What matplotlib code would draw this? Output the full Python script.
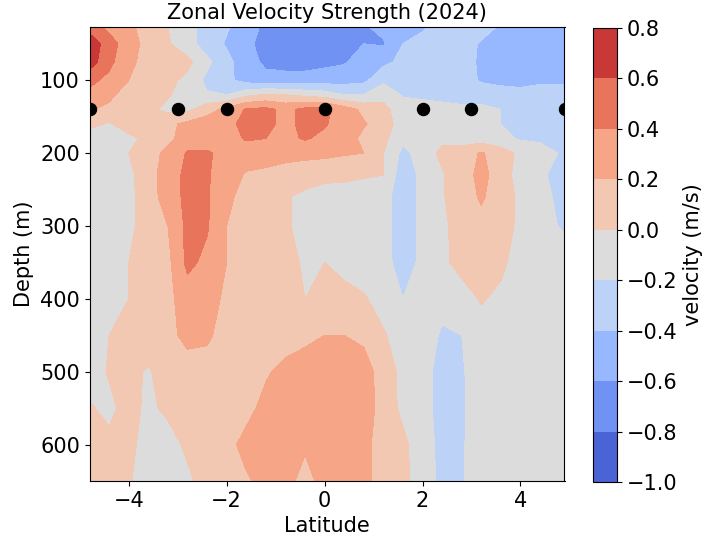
import numpy as np
import matplotlib
matplotlib.use("Agg")
import matplotlib.pyplot as plt

plt.rcParams['font.family'] = ['DejaVu Sans']
plt.rcParams['font.size'] = 15

latitude = [-4.8, -4.4, -4.0, -3.6, -3.2, -2.8, -2.4, -2.0, -1.6, -1.2, -0.8, -0.4,
            0.0, 0.4, 0.8, 1.2, 1.6, 2.0, 2.4, 2.8, 3.2, 3.6, 4.0, 4.4, 4.9]
depth = [27, 50, 75, 100, 120, 140, 160, 180, 200, 230, 260, 300, 350, 400, 450, 500, 550, 600, 650]

velocity = [
    [0.5, 0.35, 0.25, 0.1, 0.0, -0.12, -0.3, -0.38, -0.5, -0.65, -0.72, -0.75, -0.72, -0.68, -0.62, -0.55, -0.45, -0.42, -0.35, -0.3, -0.33, -0.42, -0.45, -0.42, -0.42],
    [0.75, 0.48, 0.3, 0.12, 0.02, -0.12, -0.3, -0.42, -0.55, -0.68, -0.72, -0.72, -0.68, -0.62, -0.6, -0.62, -0.4, -0.35, -0.33, -0.32, -0.42, -0.45, -0.45, -0.45, -0.42],
    [0.7, 0.45, 0.25, 0.12, 0.1, 0.05, -0.15, -0.35, -0.5, -0.65, -0.68, -0.68, -0.65, -0.62, -0.5, -0.45, -0.35, -0.3, -0.3, -0.35, -0.42, -0.45, -0.45, -0.45, -0.42],
    [0.45, 0.35, 0.2, 0.1, 0.05, -0.05, -0.25, -0.35, -0.48, -0.52, -0.52, -0.52, -0.5, -0.48, -0.45, -0.25, -0.32, -0.32, -0.32, -0.32, -0.42, -0.45, -0.45, -0.42, -0.42],
    [0.35, 0.25, 0.1, 0.08, 0.02, -0.1, -0.18, -0.2, -0.05, 0.02, 0.0, -0.05, -0.1, -0.2, -0.2, -0.05, -0.22, -0.25, -0.28, -0.3, -0.3, -0.32, -0.35, -0.35, -0.35],
    [0.22, 0.15, 0.12, 0.05, -0.05, -0.05, 0.12, 0.25, 0.42, 0.45, 0.35, 0.45, 0.45, 0.3, 0.15, 0.05, -0.1, -0.1, -0.12, -0.15, -0.15, -0.2, -0.25, -0.25, -0.25],
    [0.05, -0.02, 0.1, 0.12, 0.15, 0.25, 0.3, 0.35, 0.45, 0.45, 0.35, 0.45, 0.42, 0.3, 0.22, 0.1, -0.1, -0.12, -0.05, -0.1, -0.15, -0.2, -0.25, -0.25, -0.25],
    [-0.1, -0.1, -0.05, 0.05, 0.15, 0.3, 0.32, 0.32, 0.42, 0.4, 0.35, 0.42, 0.35, 0.3, 0.15, 0.05, -0.15, -0.15, -0.05, -0.1, -0.1, -0.15, -0.22, -0.22, -0.25],
    [-0.1, -0.1, 0.0, 0.12, 0.25, 0.42, 0.42, 0.35, 0.3, 0.3, 0.28, 0.25, 0.25, 0.22, 0.2, 0.0, -0.25, -0.12, 0.05, 0.1, 0.22, 0.1, -0.05, -0.15, -0.22],
    [-0.1, -0.1, -0.05, 0.12, 0.3, 0.45, 0.42, 0.3, 0.18, 0.15, 0.1, 0.1, 0.05, 0.05, 0.02, 0.0, -0.32, -0.15, -0.02, 0.12, 0.25, 0.12, -0.1, -0.18, -0.25],
    [-0.1, -0.1, -0.05, 0.1, 0.3, 0.45, 0.42, 0.25, 0.12, 0.1, 0.02, -0.05, -0.08, -0.1, -0.1, -0.12, -0.32, -0.15, -0.02, 0.12, 0.22, 0.12, -0.05, -0.15, -0.25],
    [-0.1, -0.1, -0.05, 0.1, 0.2, 0.45, 0.42, 0.2, 0.1, 0.08, 0.02, -0.05, -0.1, -0.1, -0.1, -0.12, -0.32, -0.15, -0.05, 0.1, 0.15, 0.1, -0.05, -0.15, -0.22],
    [-0.1, -0.08, 0.0, 0.1, 0.15, 0.45, 0.35, 0.2, 0.1, 0.08, 0.05, -0.02, 0.0, -0.05, -0.1, -0.12, -0.3, -0.15, -0.05, 0.08, 0.1, 0.05, -0.1, -0.12, -0.12],
    [-0.1, -0.05, 0.0, 0.1, 0.15, 0.3, 0.3, 0.15, 0.1, 0.08, 0.05, 0.0, 0.05, 0.05, 0.02, -0.08, -0.2, -0.1, -0.15, -0.1, 0.02, -0.05, -0.1, -0.1, -0.1],
    [-0.05, 0.0, 0.02, 0.1, 0.15, 0.25, 0.22, 0.15, 0.1, 0.1, 0.12, 0.15, 0.2, 0.2, 0.15, 0.02, -0.1, -0.12, -0.22, -0.2, -0.1, -0.1, -0.1, -0.1, -0.1],
    [-0.1, 0.02, 0.05, -0.02, 0.1, 0.12, 0.15, 0.12, 0.1, 0.18, 0.25, 0.3, 0.3, 0.3, 0.3, 0.1, -0.05, -0.15, -0.25, -0.22, -0.1, -0.12, -0.1, -0.1, -0.1],
    [0.02, -0.05, 0.08, -0.05, 0.05, 0.1, 0.12, 0.12, 0.15, 0.25, 0.3, 0.3, 0.3, 0.3, 0.3, 0.12, -0.05, -0.15, -0.25, -0.22, -0.12, -0.1, -0.1, -0.1, -0.1],
    [0.05, 0.05, 0.05, -0.08, -0.1, 0.05, 0.1, 0.15, 0.25, 0.3, 0.25, 0.22, 0.2, 0.3, 0.25, 0.12, 0.05, -0.12, -0.25, -0.22, -0.1, -0.12, -0.1, -0.1, -0.1],
    [0.05, 0.05, 0.02, -0.1, -0.1, -0.05, 0.1, 0.12, 0.18, 0.25, 0.25, 0.15, 0.25, 0.3, 0.25, 0.12, 0.05, -0.1, -0.25, -0.22, -0.1, -0.1, -0.1, -0.1, -0.1],
]

levels = [-1.0, -0.8, -0.6, -0.4, -0.2, 0.0, 0.2, 0.4, 0.6, 0.8]

station_lat = [-4.8, -3.0, -2.0, 0.0, 2.0, 3.0, 4.9]
station_depth = [140, 140, 140, 140, 140, 140, 140]

fig = plt.figure(figsize=(7.02, 5.37), dpi=100)
ax = fig.add_axes([89.6 / 702, 1 - 481 / 537, (564.5 - 89.6) / 702, (481 - 27) / 537])
cax = fig.add_axes([593 / 702, 1 - 482 / 537, 24 / 702, (482 - 28) / 537])

cf = ax.contourf(np.array(latitude), np.array(depth), np.array(velocity),
                 levels=levels, cmap='coolwarm')
ax.scatter(station_lat, station_depth, s=75, color='black', zorder=5)

ax.set_xlim(-4.8, 4.9)
ax.set_ylim(650, 27)
ax.set_xticks([-4, -2, 0, 2, 4])
ax.set_yticks([100, 200, 300, 400, 500, 600])
ax.set_xlabel('Latitude')
ax.set_ylabel('Depth (m)')
ax.set_title('Zonal Velocity Strength (2024)', fontsize=15)

cb = fig.colorbar(cf, cax=cax, ticks=levels)
cb.set_label('velocity (m/s)')
cb.ax.set_yticklabels(['\u22121.0', '\u22120.8', '\u22120.6', '\u22120.4', '\u22120.2',
                       '0.0', '0.2', '0.4', '0.6', '0.8'])

fig.savefig('out.png', dpi=100)
